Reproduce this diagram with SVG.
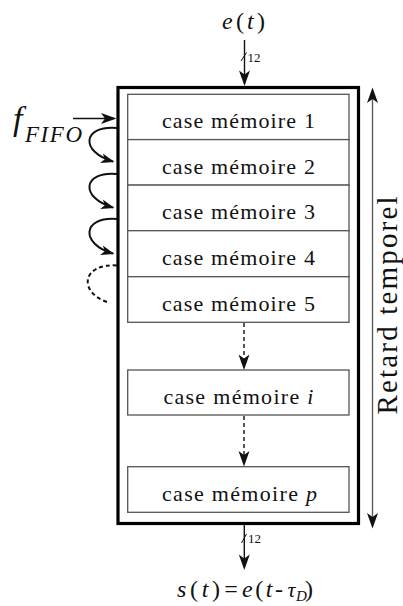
<svg xmlns="http://www.w3.org/2000/svg" width="403" height="606" viewBox="0 0 403 606" font-family="Tinos, Liberation Serif, serif">
<defs>
<marker id="ah" viewBox="-14 -6 17 12" refX="0" refY="0" markerWidth="17" markerHeight="12" markerUnits="userSpaceOnUse" orient="auto-start-reverse">
<path d="M2.5,0 L-13,-5.5 L-9,0 L-13,5.5 Z" fill="#111"/>
</marker>
<marker id="ah2" viewBox="-14 -6 17 12" refX="0" refY="0" markerWidth="17" markerHeight="12" markerUnits="userSpaceOnUse" orient="auto">
<path d="M1.5,0 L-12,-5 L-8.5,0 L-12,5 Z" fill="#111"/>
</marker>
</defs>

<g id="fifo-frame">
<rect x="118" y="87.5" width="240.5" height="436" fill="none" stroke="#000" stroke-width="3.2"/>
</g>

<g id="cell-1"><rect fill="#fff" stroke="#555" stroke-width="1.3" x="127.7" y="94.3" width="221.3" height="45.3"/><text font-family="Tinos, Liberation Serif, serif" font-size="22" fill="#111" text-anchor="middle" x="238.4" y="128" textLength="153" lengthAdjust="spacing">case m&#233;moire 1</text></g>
<g id="cell-2"><rect fill="#fff" stroke="#555" stroke-width="1.3" x="127.7" y="139.6" width="221.3" height="45.5"/><text font-family="Tinos, Liberation Serif, serif" font-size="22" fill="#111" text-anchor="middle" x="238.4" y="173.5" textLength="153" lengthAdjust="spacing">case m&#233;moire 2</text></g>
<g id="cell-3"><rect fill="#fff" stroke="#555" stroke-width="1.3" x="127.7" y="185.1" width="221.3" height="45.6"/><text font-family="Tinos, Liberation Serif, serif" font-size="22" fill="#111" text-anchor="middle" x="238.4" y="219" textLength="153" lengthAdjust="spacing">case m&#233;moire 3</text></g>
<g id="cell-4"><rect fill="#fff" stroke="#555" stroke-width="1.3" x="127.7" y="230.7" width="221.3" height="46"/><text font-family="Tinos, Liberation Serif, serif" font-size="22" fill="#111" text-anchor="middle" x="238.4" y="265" textLength="153" lengthAdjust="spacing">case m&#233;moire 4</text></g>
<g id="cell-5"><rect fill="#fff" stroke="#555" stroke-width="1.3" x="127.7" y="276.7" width="221.3" height="45.6"/><text font-family="Tinos, Liberation Serif, serif" font-size="22" fill="#111" text-anchor="middle" x="238.4" y="310.5" textLength="153" lengthAdjust="spacing">case m&#233;moire 5</text></g>
<g id="cell-i"><rect fill="#fff" stroke="#555" stroke-width="1.3" x="127.7" y="370" width="221.3" height="45"/><text font-family="Tinos, Liberation Serif, serif" font-size="22" fill="#111" text-anchor="middle" x="238.4" y="403.5" textLength="150" lengthAdjust="spacing">case m&#233;moire <tspan font-style="italic">i</tspan></text></g>
<g id="cell-p"><rect fill="#fff" stroke="#555" stroke-width="1.3" x="127.7" y="466.7" width="221.3" height="45.6"/><text font-family="Tinos, Liberation Serif, serif" font-size="22" fill="#111" text-anchor="middle" x="239.5" y="500.5" textLength="155" lengthAdjust="spacing">case m&#233;moire <tspan font-style="italic">p</tspan></text></g>

<g id="label-input">
<text font-family="Tinos, Liberation Serif, serif" font-size="24" fill="#111" x="222" y="29" textLength="43" lengthAdjust="spacing"><tspan font-style="italic">e</tspan>(<tspan font-style="italic">t</tspan>)</text>
<text font-family="Tinos, Liberation Serif, serif" font-size="13" fill="#111" x="247.5" y="62">12</text>
</g>

<g id="label-output">
<text font-family="Tinos, Liberation Serif, serif" font-size="24" fill="#111" x="177" y="597" textLength="43" lengthAdjust="spacing"><tspan font-style="italic">s</tspan>(<tspan font-style="italic">t</tspan>)</text>
<text font-family="Tinos, Liberation Serif, serif" font-size="24" fill="#111" x="231" y="597" text-anchor="middle">=</text>
<text font-family="Tinos, Liberation Serif, serif" font-size="24" fill="#111" x="242" y="597" textLength="41" lengthAdjust="spacing"><tspan font-style="italic">e</tspan>(<tspan font-style="italic">t</tspan>-</text>
<text font-family="Tinos, Liberation Serif, serif" font-size="22" font-style="italic" fill="#111" x="287.5" y="597">&#964;</text>
<text font-family="Tinos, Liberation Serif, serif" font-size="15" font-style="italic" fill="#111" x="296" y="601">D</text>
<text font-family="Tinos, Liberation Serif, serif" font-size="24" fill="#111" x="305" y="597">)</text>
<text font-family="Tinos, Liberation Serif, serif" font-size="13" fill="#111" x="248" y="543">12</text>
</g>

<g id="label-clock">
<text font-family="Tinos, Liberation Serif, serif" font-size="34" font-style="italic" fill="#111" x="13" y="130">f</text>
<text font-family="Tinos, Liberation Serif, serif" font-size="23" font-style="italic" fill="#111" x="25" y="142" textLength="57" lengthAdjust="spacing">FIFO</text>
</g>

<g id="label-delay">
<text font-family="Tinos, Liberation Serif, serif" font-size="29" fill="#111" x="397" y="305.5" text-anchor="middle" textLength="218" lengthAdjust="spacing" transform="rotate(-90 397 305.5)">Retard temporel</text>
</g>

<g id="connectors" fill="none" stroke="#111">
<line stroke-width="1.4" x1="244.5" y1="40" x2="244.5" y2="83.5" marker-end="url(#ah)"/>
<line stroke-width="1" x1="241" y1="61" x2="246.5" y2="52.5"/>
<line stroke-width="1.4" x1="244.3" y1="525" x2="244.3" y2="567.5" marker-end="url(#ah)"/>
<line stroke-width="1" x1="241.5" y1="543" x2="246.5" y2="534"/>
<line stroke-width="1.4" x1="73" y1="118.5" x2="114" y2="118.5" marker-end="url(#ah)"/>
<path stroke-width="2" d="M117,128 C82,125 80,152 113,161.5" marker-end="url(#ah2)"/>
<path stroke-width="2" d="M117,174 C82,171 80,198 113,207.5" marker-end="url(#ah2)"/>
<path stroke-width="2" d="M117,219 C82,216 80,244 113,253.5" marker-end="url(#ah2)"/>
<path stroke-width="2" stroke-dasharray="4 3" d="M117,265.5 C82,263 78,292 107,302"/>
<line stroke-width="1.4" stroke-dasharray="4 3" x1="244" y1="323" x2="244" y2="367.5" marker-end="url(#ah)"/>
<line stroke-width="1.4" stroke-dasharray="4 3" x1="244" y1="416" x2="244" y2="464" marker-end="url(#ah)"/>
<line stroke="#555" stroke-width="1.3" x1="372.5" y1="90" x2="372.5" y2="526" marker-start="url(#ah)" marker-end="url(#ah)"/>
</g>
</svg>
